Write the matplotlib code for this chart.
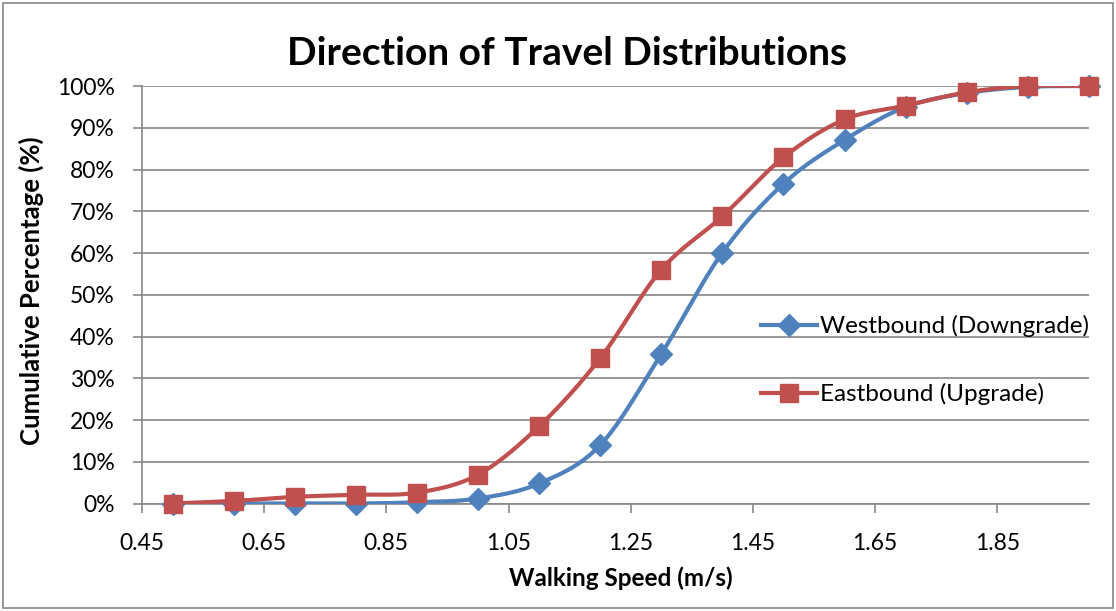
import numpy as np
import matplotlib.pyplot as plt
from matplotlib.patches import Rectangle
from matplotlib.ticker import FuncFormatter

plt.rcParams['font.family'] = ['Lato', 'DejaVu Sans']

speed = [0.5, 0.6, 0.7, 0.8, 0.9, 1.0, 1.1, 1.2, 1.3, 1.4, 1.5, 1.6, 1.7, 1.8, 1.9, 2.0]
westbound = [0.0, 0.0, 0.0, 0.0, 0.3, 1.2, 4.8, 14.0, 35.8, 60.1, 76.6, 87.1, 95.0, 98.3, 99.8, 100.0]
eastbound = [0.0, 0.6, 1.6, 2.1, 2.6, 6.9, 18.5, 34.8, 56.0, 68.8, 82.9, 92.0, 95.3, 98.5, 100.0, 100.0]
x_ticks = [0.45, 0.65, 0.85, 1.05, 1.25, 1.45, 1.65, 1.85]

BLUE = '#4F81BD'
RED = '#C0504D'
GRID = '#868686'


def smooth(x, y, n=30):
    # catmull-rom curve through the points, like Excel's smoothed line
    x = np.asarray(x, float)
    y = np.asarray(y, float)
    px = np.concatenate([[2 * x[0] - x[1]], x, [2 * x[-1] - x[-2]]])
    py = np.concatenate([[2 * y[0] - y[1]], y, [2 * y[-1] - y[-2]]])
    t = np.linspace(0, 1, n)[:, None]
    xs, ys = [], []
    for i in range(1, len(px) - 2):
        for arr, out in ((px, xs), (py, ys)):
            p0, p1, p2, p3 = arr[i - 1], arr[i], arr[i + 1], arr[i + 2]
            seg = 0.5 * (2 * p1 + (-p0 + p2) * t + (2 * p0 - 5 * p1 + 4 * p2 - p3) * t ** 2
                         + (-p0 + 3 * p1 - 3 * p2 + p3) * t ** 3)
            out.append(seg.ravel())
    return np.concatenate(xs), np.concatenate(ys)


fig = plt.figure(figsize=(11.16, 6.11), dpi=100)
fig.patches.append(Rectangle((0.003, 0.005), 0.994, 0.99, transform=fig.transFigure,
                             fill=False, edgecolor=GRID, linewidth=1.2))
ax = fig.add_axes([0.1272, 0.1759, 0.8486, 0.6833])

wx, wy = smooth(speed, westbound)
ex, ey = smooth(speed, eastbound)
ax.plot(wx, wy, color=BLUE, lw=3, zorder=3, solid_capstyle='round')
ax.plot(speed, westbound, 'D', color=BLUE, ms=11, zorder=4, clip_on=False)
ax.plot(ex, ey, color=RED, lw=3, zorder=5, solid_capstyle='round')
ax.plot(speed, eastbound, 's', color=RED, ms=13.5, zorder=6, clip_on=False)

# legend proxies
ax.plot([], [], color=BLUE, lw=3, marker='D', ms=11, label='Westbound (Downgrade)')
ax.plot([], [], color=RED, lw=3, marker='s', ms=13.5, label='Eastbound (Upgrade)')
ax.legend(loc='upper left', bbox_to_anchor=(0.643, 0.475), frameon=False, fontsize=17.5,
          labelspacing=1.9, handlelength=2.3, handletextpad=0.16, borderaxespad=0)

ax.set_xlim(0.45, 2.0)
ax.set_ylim(0, 100)
ax.set_xticks(x_ticks)
ax.set_xticklabels([f'{v:.2f}' for v in x_ticks])
ax.set_yticks(range(0, 101, 10))
ax.yaxis.set_major_formatter(FuncFormatter(lambda v, p: f'{int(v)}%'))
ax.grid(axis='y', color=GRID, lw=1.2)
ax.set_axisbelow(True)
for s in ('top', 'right'):
    ax.spines[s].set_visible(False)
for s in ('left', 'bottom'):
    ax.spines[s].set_color(GRID)
    ax.spines[s].set_linewidth(1.2)
ax.tick_params(axis='both', colors=GRID, length=6.5, width=1.2, labelsize=16.5, labelcolor='black')
ax.tick_params(axis='x', pad=15)
ax.tick_params(axis='y', pad=13)

ax.set_xlabel('Walking Speed (m/s)', fontsize=17.5, fontweight='bold')
ax.xaxis.set_label_coords(0.506, -0.15)
ax.set_ylabel('Cumulative Percentage (%)', fontsize=18.5, fontweight='bold')
ax.yaxis.set_label_coords(-0.103, 0.51)
fig.text(0.508, 0.913, 'Direction of Travel Distributions', fontsize=28, fontweight='bold',
         ha='center', va='center')

fig.savefig('out.png', dpi=100)
